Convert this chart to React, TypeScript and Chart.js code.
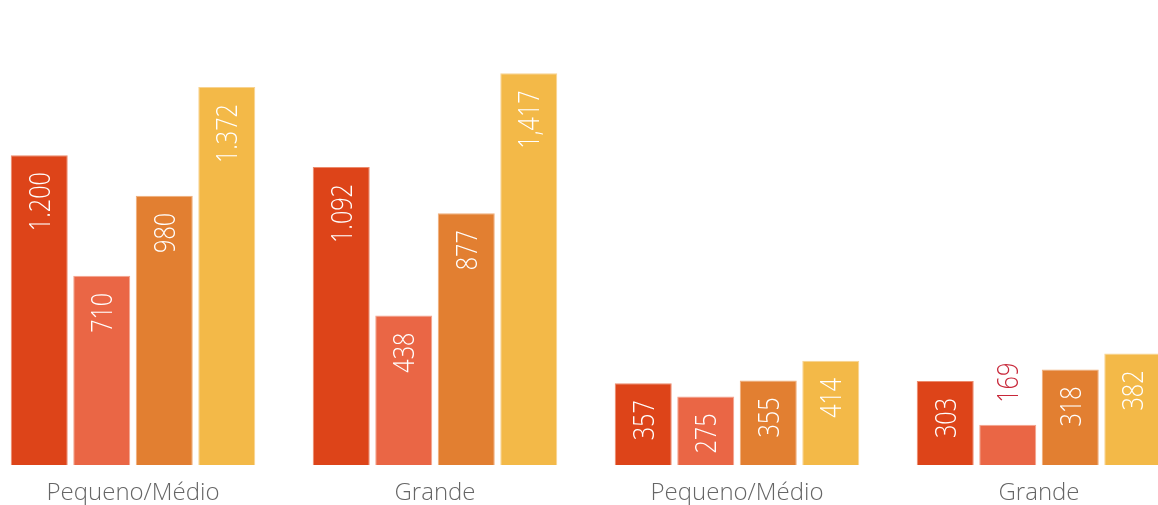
import React, { useEffect, useRef } from "react";
import { Chart, registerables } from "chart.js";

Chart.register(...registerables);

const categories = ["Pequeno/Médio", "Grande", "Pequeno/Médio", "Grande"];
// bar heights (share of the hidden axis, 0-100)
const series1 = [67.8, 65.2, 17.9, 18.4];
const series2 = [41.4, 32.7, 15.0, 8.8];
const series3 = [58.9, 55.1, 18.5, 20.9];
const series4 = [82.7, 85.7, 22.8, 24.4];
// printed labels on the bars
const labels1 = ["1.200", "1.092", "357", "303"];
const labels2 = ["710", "438", "275", "169"];
const labels3 = ["980", "877", "355", "318"];
const labels4 = ["1.372", "1,417", "414", "382"];

const colors = ["#dd4419", "#ea6645", "#e27f31", "#f3b948"];
const borders = ["#ec8a6c", "#f4a58f", "#f0ae7a", "#f8d391"];

const allLabels = [labels1, labels2, labels3, labels4];

const labelPlugin = {
  id: "barLabels",
  afterDatasetsDraw(chart: any) {
    const ctx = chart.ctx;
    const fs = 30;
    const sx = 0.78;
    chart.data.datasets.forEach((ds: any, di: number) => {
      const meta = chart.getDatasetMeta(di);
      meta.data.forEach((el: any, i: number) => {
        const text = allLabels[di][i];
        ctx.save();
        ctx.font = `300 ${fs}px "Open Sans"`;
        const w = ctx.measureText(text).width * sx;
        const h = el.base - el.y;
        const inside = w + 16 + 8 <= h;
        const cap = fs * 0.714;
        ctx.translate(el.x + cap / 2, inside ? el.y + 17 : el.y - 22);
        ctx.rotate(-Math.PI / 2);
        ctx.scale(sx, 1);
        ctx.textBaseline = "alphabetic";
        ctx.textAlign = inside ? "right" : "left";
        ctx.fillStyle = inside ? "#ffffff" : "#c8283a";
        ctx.fillText(text, 0, 0);
        ctx.restore();
      });
    });
  },
};

export default function App() {
  const ref = useRef<HTMLCanvasElement | null>(null);
  useEffect(() => {
    if (!ref.current) return;
    const values = [series1, series2, series3, series4];
    const chart = new Chart(ref.current, {
      type: "bar",
      data: {
        labels: categories,
        datasets: values.map((v, i) => ({
          label: "S" + (i + 1),
          data: v,
          backgroundColor: colors[i],
          borderColor: borders[i],
          borderWidth: 1,
          categoryPercentage: 0.828,
          barPercentage: 0.912,
        })),
      },
      options: {
        responsive: false,
        animation: false,
        layout: { padding: 0 },
        plugins: { legend: { display: false }, tooltip: { enabled: false } },
        scales: {
          x: {
            grid: { display: false, drawTicks: false },
            border: { display: false },
            ticks: {
              color: "#666666",
              font: { family: "Open Sans", size: 24, weight: "300" },
              padding: 14,
              maxRotation: 0,
            },
            afterFit(scale: any) {
              scale.height = 40;
            },
          },
          y: { display: false, min: 0, max: 100 },
        },
      },
      plugins: [labelPlugin],
    });
    return () => chart.destroy();
  }, []);
  return (
    <div
      style={{
        position: "absolute",
        left: 0,
        top: 0,
        width: 1158,
        height: 505,
        overflow: "hidden",
        background: "#ffffff",
      }}
    >
      <canvas
        ref={ref}
        width={1208}
        height={497}
        style={{ position: "absolute", left: -18, top: 8, width: 1208, height: 497 }}
      />
    </div>
  );
}
